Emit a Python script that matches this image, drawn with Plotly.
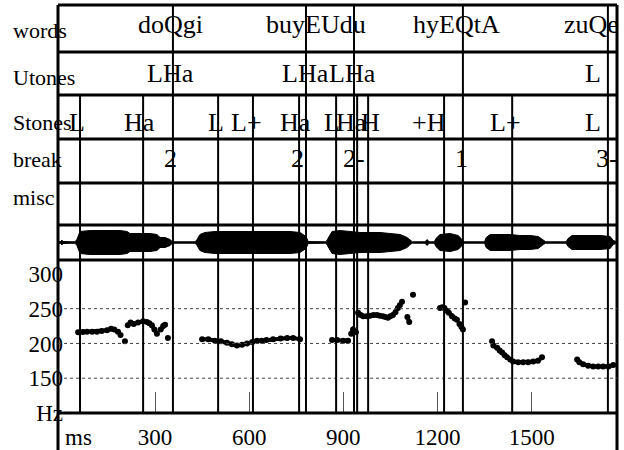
import plotly.graph_objects as go

# ---------------- data (time in ms, pitch in Hz) ----------------
TIERS = ["words", "Utones", "Stones", "break", "misc"]

WORD_LABELS = ["doQgi", "buyEUdu", "hyEQtA", "zuQe"]
WORD_MS = [349, 814, 1261, 1691]

UTONE_LABELS = ["LHa", "LHa", "LHa", "L"]
UTONE_MS = [348, 778, 928, 1697]

STONE_LABELS = ["L", "Ha", "L", "L+", "Ha", "L", "Ha", "H", "+H", "L+", "L"]
STONE_MS = [51, 252, 495, 590, 746, 864, 927, 985, 1173, 1418, 1697]

BREAK_LABELS = ["2", "2", "2-", "1", "3-"]
BREAK_MS = [348, 753, 934, 1278, 1740]

WORD_MARKS_MS = [357, 781, 934, 1281, 1743]
TONE_MARKS_MS = [61, 262, 501, 612, 759, 877, 944, 979, 1221, 1438]

X_TICKS_MS = [300, 600, 900, 1200, 1500]
HZ_TICKS = [100, 150, 200, 250, 300]
HZ_TICK_TEXT = ["Hz", "150", "200", "250", "300"]
HZ_GRID = [150, 200, 250]

WAVE_MS = [-9, 0, 3, 7, 45, 51, 61, 93, 125, 157, 188, 211, 220, 252, 284, 306,
           316, 332, 348, 354, 360, 428, 434, 443, 459, 491, 539, 603, 666, 730,
           762, 781, 788, 845, 851, 864, 889, 921, 953, 985, 1017, 1049, 1081,
           1103, 1113, 1120, 1160, 1167, 1173, 1190, 1195, 1208, 1240, 1266, 1278,
           1285, 1350, 1355, 1368, 1399, 1431, 1463, 1495, 1521, 1537, 1545, 1610,
           1616, 1629, 1654, 1686, 1718, 1750, 1760, 1772]
WAVE_AMP = [0.7, 1, 2.5, 1, 0.7, 3, 11, 12, 12, 12, 12, 11, 9, 9, 9, 8,
            5, 5, 3, 1, 0.7, 0.7, 3, 8, 10, 11, 11, 11, 11, 11,
            10, 6, 1, 0.7, 4, 11, 12, 11, 10, 10, 10, 9, 8,
            5, 2, 0.7, 0.7, 3, 0.7, 0.7, 4, 8, 9, 7, 3,
            0.7, 0.7, 5, 8, 8, 8, 7, 7, 6, 2, 0.7, 0.7,
            4, 7, 7, 7, 7, 6, 2, 0.7]

PITCH_MS = [
    55, 70, 83, 100, 115, 130, 147, 160, 170, 182, None,
    190, None,
    204, None,
    213, 222, 232, 246, 262, 274, 282, 290, 298, 306, None,
    318, 326, 332, None,
    341, None,
    450, 470, 491, 510, 529, 545, 561, 577, 593, 610, 625, 640, 655, 676, 700, 721, 740, 762, None,
    864, 880, 900, 915, None,
    925, 931, 940, None,
    947, 955, 963, 975, 985, 996, 1007, 1016, 1026, 1034, 1042, 1050, 1058, 1066, 1074, 1080, None,
    1087, None,
    1104, 1110, None,
    1122, None,
    1208, 1215, 1222, 1230, 1236, 1246, 1255, 1262, None,
    1270, 1276, 1281, None,
    1288, None,
    1374, 1378, 1390, 1398, 1406, 1414, 1422, 1432, 1441, 1457, 1473, 1489, 1505, 1520, 1533, None,
    1645, 1652, 1664, 1680, 1696, 1712, 1728, 1745, 1760]
PITCH_HZ = [
    216, 216.5, 217, 217, 217, 218, 219, 221, 220, 217, None,
    212, None,
    203, None,
    226, 230, 228, 230, 232, 231, 229, 226, 220, 214, None,
    220, 225, 227, None,
    208, None,
    206, 206, 204, 203, 201, 199, 197, 198, 200, 202, 204, 204, 205, 206, 207, 208, 208, 206, None,
    205, 205, 204, 204, None,
    214, 220, 216, None,
    244, 241, 239, 239, 240, 241, 241, 240, 239, 238, 237, 239, 241, 245, 251, 255, None,
    260, None,
    238, 231, None,
    270, None,
    251, 252, 251, 247, 244, 239, 236, 234, None,
    228, 224, 220, None,
    259, None,
    203, 197, 194, 190, 187, 183, 180, 177, 174, 173, 173, 173, 174, 175, 180, None,
    177, 173, 170, 168, 167, 167, 167, 167, 169]

assert len(WAVE_MS) == len(WAVE_AMP)
assert len(PITCH_MS) == len(PITCH_HZ)

# ---------------- layout helpers ----------------
W, H = 624, 450
ML, MR, MT, MB = 58, 7, 5, 37
PH = H - MT - MB  # plot height in px


def py(px):
    """pixel row -> paper y"""
    return (H - MB - px) / PH


def pxx(px):
    return (px - ML) / (W - ML - MR)


FONT = "Liberation Serif, Times New Roman, serif"
ROW_EDGES = [5, 52, 95, 139, 183, 225]
WAVE_BOTTOM = 260
TIER_NAME_Y = [30.5, 77.5, 122.5, 159.5, 197.5]
LABEL_ROW_Y = [24.5, 74, 123, 158]

fig = go.Figure()

# waveform envelope
fig.add_trace(go.Scatter(
    x=WAVE_MS + WAVE_MS[::-1],
    y=WAVE_AMP + [-a for a in WAVE_AMP[::-1]],
    fill="toself", fillcolor="black", mode="lines",
    line=dict(color="black", width=1), yaxis="y2", hoverinfo="skip"))

# pitch track
fig.add_trace(go.Scatter(
    x=PITCH_MS, y=PITCH_HZ, mode="lines+markers", connectgaps=False,
    line=dict(color="black", width=4), marker=dict(color="black", size=6),
    hoverinfo="skip"))

shapes = []
blk = "black"
# frame
shapes.append(dict(type="line", xref="paper", yref="paper", x0=0, x1=0,
                   y0=py(H), y1=1, line=dict(color=blk, width=3)))
shapes.append(dict(type="line", xref="paper", yref="paper", x0=1, x1=1,
                   y0=py(H), y1=1, line=dict(color=blk, width=3)))
for yy in ROW_EDGES + [WAVE_BOTTOM, H - MB]:
    shapes.append(dict(type="line", xref="paper", yref="paper", x0=0, x1=1,
                       y0=py(yy), y1=py(yy), line=dict(color=blk, width=3)))
# grid lines
for g in HZ_GRID:
    shapes.append(dict(type="line", xref="paper", yref="y", x0=0, x1=1,
                       y0=g, y1=g, line=dict(color="#444", width=1, dash="dot")))
# label marks
for t in WORD_MARKS_MS:
    shapes.append(dict(type="line", xref="x", yref="paper", x0=t, x1=t,
                       y0=0, y1=1, line=dict(color=blk, width=2)))
for t in TONE_MARKS_MS:
    shapes.append(dict(type="line", xref="x", yref="paper", x0=t, x1=t,
                       y0=0, y1=py(ROW_EDGES[2]), line=dict(color=blk, width=2)))

annotations = []
for name, c in zip(TIERS, TIER_NAME_Y):
    annotations.append(dict(text=name, xref="paper", yref="paper", x=pxx(11),
                            y=py(c), xanchor="left", yanchor="middle",
                            showarrow=False, font=dict(family=FONT, size=22, color=blk)))

for labels, times, row in [(WORD_LABELS, WORD_MS, 0), (UTONE_LABELS, UTONE_MS, 1),
                           (STONE_LABELS, STONE_MS, 2), (BREAK_LABELS, BREAK_MS, 3)]:
    for lab, t in zip(labels, times):
        annotations.append(dict(text=lab, xref="x", yref="paper", x=t,
                                y=py(LABEL_ROW_Y[row]), xanchor="center", yanchor="middle",
                                showarrow=False, font=dict(family=FONT, size=26, color=blk)))

annotations.append(dict(text="ms", xref="x", yref="paper", x=56, y=py(437),
                        xanchor="center", yanchor="middle", showarrow=False,
                        font=dict(family=FONT, size=23, color=blk)))

fig.update_layout(
    template="none",
    width=W, height=H, margin=dict(l=ML, r=MR, t=MT, b=MB),
    paper_bgcolor="white", plot_bgcolor="white", showlegend=False,
    xaxis=dict(range=[-9.2, 1772], showgrid=False, zeroline=False, showline=False,
               automargin=False,
               ticks="inside", ticklen=21, tickwidth=1, tickcolor="#555",
               tickvals=X_TICKS_MS, ticktext=[str(v) for v in X_TICKS_MS],
               tickfont=dict(family=FONT, size=23, color=blk), ticklabelstandoff=8),
    yaxis=dict(domain=[0, py(WAVE_BOTTOM)], range=[100, 320], showgrid=False,
               zeroline=False, showline=False, ticks="", automargin=False,
               tickvals=HZ_TICKS, ticktext=HZ_TICK_TEXT,
               tickfont=dict(family=FONT, size=23, color=blk), ticklabelstandoff=-6),
    yaxis2=dict(domain=[py(WAVE_BOTTOM), py(ROW_EDGES[-1])], range=[-17.5, 17.5],
                anchor="x", visible=False, automargin=False),
    shapes=shapes, annotations=annotations,
)

fig.write_html("out.html", config={"displayModeBar": False},
               post_script="document.body.style.margin='0px';document.body.style.padding='0px';")
